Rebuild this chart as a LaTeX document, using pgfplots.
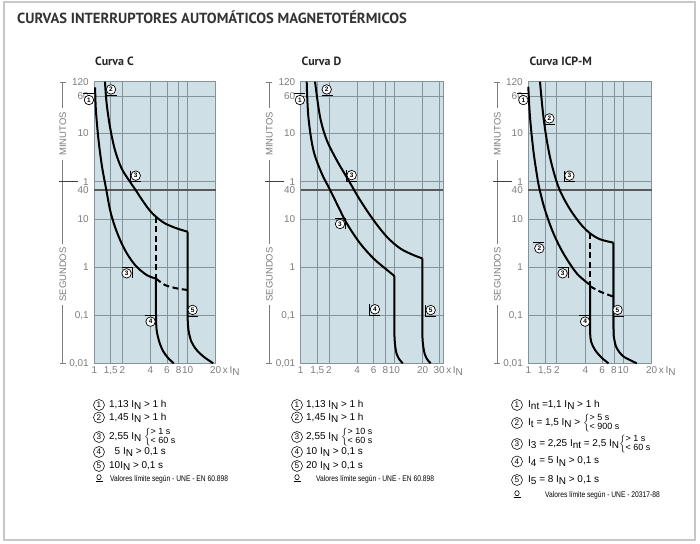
\documentclass[border=0pt]{standalone}
\usepackage{pgfplots}
\pgfplotsset{compat=1.18}
\usepackage{fontspec}
\setmainfont{Liberation Sans}
\newfontfamily\ptsans{PT Sans}
\definecolor{bg}{RGB}{206,224,230}
\definecolor{gridc}{RGB}{132,146,153}
\definecolor{labc}{RGB}{125,125,125}
\newcommand{\sub}[1]{\raisebox{-0.4ex}{#1}}
\newcommand{\IN}{I\sub{N}}
\newcommand{\two}[2]{$\left\{\begin{tabular}{@{}l@{}}\fontsize{9}{9}\selectfont #1\\\fontsize{9}{9}\selectfont #2\end{tabular}\right.$}
\tikzset{
 cmk/.style={circle,draw=black,line width=0.7bp,fill=white,inner sep=0pt,minimum size=9.5bp,font=\fontsize{6.5}{6.5}\selectfont\bfseries},
 lgc/.style={circle,draw=black,line width=0.55bp,inner sep=0pt,minimum size=11bp,font=\fontsize{8.2}{8.2}\selectfont},
 lgt/.style={anchor=west,inner sep=0pt,font=\fontsize{10}{11}\selectfont},
 lgv/.style={anchor=west,inner sep=0pt,font=\fontsize{8.2}{9}\selectfont},
 dsh/.style={dash pattern=on 6bp off 3.5bp},
}
\newcommand{\mkU}[3]{\node[cmk] at (axis cs:#1,#2) {#3};
 \draw[line width=0.6bp] ([xshift=-5bp,yshift=-6bp]axis cs:#1,#2) -- ++(11bp,0bp);}
\newcommand{\mkO}[3]{\node[cmk] at (axis cs:#1,#2) {#3};
 \draw[line width=0.6bp] ([xshift=-6bp,yshift=6.5bp]axis cs:#1,#2) -- ++(11bp,0bp);}
\newcommand{\mkUL}[3]{\node[cmk] at (axis cs:#1,#2) {#3};
 \draw[line width=0.6bp] ([xshift=-5.5bp,yshift=5bp]axis cs:#1,#2) -- ++(0bp,-11bp) -- ++(11bp,0bp);}
\newcommand{\mkOR}[3]{\node[cmk] at (axis cs:#1,#2) {#3};
 \draw[line width=0.6bp] ([xshift=-5bp,yshift=6bp]axis cs:#1,#2) -- ++(10.5bp,0bp) -- ++(0bp,-11bp);}
\pgfplotsset{every axis plot/.append style={line width=2bp, black}}
\newcommand{\ydeco}[1]{%
 \begin{scope}[draw=labc, line width=0.9bp]
 \draw (#1-3,462) -- (#1+3,462);
 \draw (#1,462) -- (#1,436);
 \draw (#1,384) -- (#1,300);
 \draw (#1,239) -- (#1,181);
 \draw (#1-3,181) -- (#1+3,181);
 \draw[black!75] (#1-4,362.3) -- (#1+15,362.3);
 \node[rotate=90, font=\fontsize{9.5}{9.5}\selectfont, text=labc] at (#1,410) {MINUTOS};
 \node[rotate=90, font=\fontsize{9.5}{9.5}\selectfont, text=labc] at (#1,269.5) {SEGUNDOS};
 \end{scope}}
\newcommand{\vsym}[2]{\draw[line width=0.6bp] (#1,#2+1.8) ellipse (2.2 and 2.6); \draw[line width=0.7bp] (#1-3.5,#2-2) -- (#1+3.5,#2-2);}
\begin{document}
\begin{tikzpicture}[x=1bp,y=1bp]
\path (0,0) rectangle (700,544);
\draw[black!22, line width=1.3bp] (4,4) rectangle (695,542);
\node[anchor=base west, inner sep=0pt, font=\ptsans\bfseries\fontsize{14.7}{15}\selectfont, text=black!80] at (17,520) {CURVAS INTERRUPTORES AUTOMÁTICOS MAGNETOTÉRMICOS};

% ---------------- Curva C
\node[anchor=base west, inner sep=0pt, font=\ptsans\bfseries\fontsize{12}{12}\selectfont, text=black!85] at (95,478) {Curva C};
\ydeco{62.8}
\begin{axis}[anchor=south west, at={(94.3bp,180.7bp)}, width=121.4bp, height=281.6bp, scale only axis,
 xmode=log, ymode=log, xmin=1, xmax=20, ymin=0.01, ymax=7200,
 axis background/.style={fill=bg},
 axis line style={gridc, line width=0.8bp},
 grid=major, major grid style={gridc, line width=0.8bp},
 major tick length=0pt,
 ytick={0.01,0.1,1,10,60,600,3600,7200},
 yticklabels={{0,01},{0,1},1,10,1,10,{60\hspace{8bp}},120},
 extra y ticks={40}, extra y tick labels={40},
 tick label style={font=\fontsize{10}{10}\selectfont, text=labc},
 yticklabel style={xshift=-2bp},
 clip=false,
 xtick={1.5,2,4,6,8,10}, xticklabels={{1,5},2,4,6,8,10},
 extra x ticks={1,20}, extra x tick labels={1,{20\rlap{\,x\,\IN}}}]
\draw[black!65, line width=1.5bp] (axis cs:1,40) -- (axis cs:20,40);
\addplot[smooth, tension=0.55] coordinates {(1.02,5500) (1.04,1850) (1.11,440) (1.21,123) (1.34,42) (1.50,13.5) (1.75,5.3) (2.13,2.27) (2.73,1.11) (3.64,0.686) (4.58,0.58)};
\addplot[smooth, tension=0.5] coordinates {(4.58,0.58) (4.58,0.12) (4.65,0.05) (5.0,0.027) (5.5,0.0175) (6.2,0.0128) (7.1,0.01)};
\addplot[smooth, tension=0.55] coordinates {(1.30,7200) (1.356,2540) (1.472,832) (1.665,272) (1.963,113) (2.41,59.8) (2.73,42) (3.35,23) (3.95,14.9) (4.58,11.2) (5.71,8.15) (7.63,6.41) (10,5.46)};
\addplot[smooth, tension=0.5] coordinates {(10,5.46) (10,0.12) (10.2,0.05) (11,0.028) (12.5,0.0189) (15,0.0135) (18.8,0.01)};
\addplot[dsh] coordinates {(4.58,11.2) (4.58,0.58)};
\addplot[smooth, dsh] coordinates {(4.58,0.58) (5.71,0.426) (7.63,0.362) (10,0.335)};
\mkO{0.877}{2990}{1}
\mkU{1.51}{4970}{2}
\mkUL{2.78}{80}{3}
\mkOR{2.22}{0.743}{3}
\mkO{4.01}{0.0735}{4}
\mkUL{11.3}{0.129}{5}
\end{axis}

% ---------------- Curva D
\node[anchor=base west, inner sep=0pt, font=\ptsans\bfseries\fontsize{12}{12}\selectfont, text=black!85] at (301.5,478) {Curva D};
\ydeco{269.3}
\begin{axis}[anchor=south west, at={(300.7bp,180.7bp)}, width=142.6bp, height=281.6bp, scale only axis,
 xmode=log, ymode=log, xmin=1, xmax=33.3, ymin=0.01, ymax=7200,
 axis background/.style={fill=bg},
 axis line style={gridc, line width=0.8bp},
 grid=major, major grid style={gridc, line width=0.8bp},
 major tick length=0pt,
 ytick={0.01,0.1,1,10,60,600,3600,7200},
 yticklabels={{0,01},{0,1},1,10,1,10,{60\hspace{8bp}},120},
 extra y ticks={40}, extra y tick labels={40},
 tick label style={font=\fontsize{10}{10}\selectfont, text=labc},
 yticklabel style={xshift=-2bp},
 clip=false,
 xtick={1.5,2,4,6,8,10,20}, xticklabels={{1,5},2,4,6,8,10,20},
 extra x ticks={1,30}, extra x tick labels={1,{30\rlap{\,x\,\IN}}}]
\draw[black!65, line width=1.5bp] (axis cs:1,40) -- (axis cs:33.3,40);
\addplot[smooth, tension=0.55] coordinates {(1.159,7200) (1.207,1343) (1.365,272) (1.676,89) (2.02,43.5) (2.52,18.1) (3.10,8.15) (4.30,3.13) (5.98,1.52) (7.95,0.944) (10,0.655)};
\addplot[smooth, tension=0.5] coordinates {(10,0.655) (10,0.05) (10.15,0.025) (10.6,0.0155) (11.4,0.0118) (12.3,0.01)};
\addplot[smooth, tension=0.55] coordinates {(1.422,7200) (1.608,1343) (1.895,440) (2.42,169) (3.23,64.7) (4.30,24.9) (5.98,9.55) (8.28,4.30) (11.5,2.46) (15.9,1.79) (19.9,1.52)};
\addplot[smooth, tension=0.5] coordinates {(19.9,1.52) (19.9,0.05) (20.2,0.025) (21.1,0.0155) (22.6,0.0118) (24.4,0.01)};
\mkO{0.98}{2990}{1}
\mkU{1.895}{4970}{2}
\mkUL{3.5}{82}{3}
\mkOR{2.63}{7.9}{3}
\mkUL{6.2}{0.133}{4}
\mkUL{24.4}{0.128}{5}
\end{axis}

% ---------------- Curva ICP-M
\node[anchor=base west, inner sep=0pt, font=\ptsans\bfseries\fontsize{12}{12}\selectfont, text=black!85] at (529.3,478) {Curva ICP-M};
\ydeco{497.3}
\begin{axis}[anchor=south west, at={(528.3bp,180.7bp)}, width=123.4bp, height=281.6bp, scale only axis,
 xmode=log, ymode=log, xmin=1, xmax=20, ymin=0.01, ymax=7200,
 axis background/.style={fill=bg},
 axis line style={gridc, line width=0.8bp},
 grid=major, major grid style={gridc, line width=0.8bp},
 major tick length=0pt,
 ytick={0.01,0.1,1,10,60,600,3600,7200},
 yticklabels={{0,01},{0,1},1,10,1,10,{60\hspace{8bp}},120},
 extra y ticks={40}, extra y tick labels={40},
 tick label style={font=\fontsize{10}{10}\selectfont, text=labc},
 yticklabel style={xshift=-2bp},
 clip=false,
 xtick={1.5,2,4,6,8,10}, xticklabels={{1,5},2,4,6,8,10},
 extra x ticks={1,20}, extra x tick labels={1,{20\rlap{\,x\,\IN}}}]
\draw[black!65, line width=1.5bp] (axis cs:1,40) -- (axis cs:20,40);
\addplot[smooth, tension=0.55] coordinates {(1.0,5650) (1.041,1343) (1.129,272) (1.225,89) (1.307,43.5) (1.50,15.4) (1.84,5.05) (2.34,1.94) (3.24,0.743) (4.48,0.426)};
\addplot[smooth, tension=0.5] coordinates {(4.48,0.426) (4.48,0.05) (4.6,0.028) (5.06,0.0189) (5.9,0.0132) (7.0,0.01)};
\addplot[smooth, tension=0.55] coordinates {(1.328,7200) (1.417,1850) (1.525,605) (1.72,169) (2.075,47) (2.645,18.1) (3.51,8.15) (4.48,5.05) (5.72,3.79) (7.9,3.23)};
\addplot[smooth, tension=0.5] coordinates {(7.9,3.23) (7.9,0.06) (8.1,0.03) (8.58,0.0205) (10.1,0.0138) (13.9,0.01)};
\addplot[dsh] coordinates {(4.48,5.05) (4.48,0.426)};
\addplot[smooth, dsh] coordinates {(4.48,0.40) (5.72,0.309) (7.9,0.243)};
\mkO{0.886}{2990}{1}
\mkU{1.667}{1242}{2}
\mkUL{2.71}{80}{3}
\mkO{1.307}{2.46}{2}
\mkOR{2.30}{0.743}{3}
\mkO{3.97}{0.0735}{4}
\mkU{8.72}{0.129}{5}
\end{axis}

% ---------------- legends
\renewcommand{\arraystretch}{0.74}
% C
\node[lgc] at (99,139) {1}; \node[lgt] at (109,139) {1,13 \IN\ > 1 h};
\node[lgc] at (99,126.5) {2}; \node[lgt] at (109,126.5) {1,45 \IN\ > 1 h};
\node[lgc] at (99,107) {3}; \node[lgt] at (109,107) {2,55 \IN\ \two{> 1 s}{< 60 s}};
\node[lgc] at (99,92) {4}; \node[lgt] at (109,92) {\ \ 5 \IN\ > 0,1 s};
\node[lgc] at (99,78) {5}; \node[lgt] at (109,78) {10\IN\ > 0,1 s};
\vsym{99}{65}
\node[lgv] at (110,65) {\scalebox{0.82}[1]{Valores límite según - UNE - EN 60.898}};
% D
\node[lgc] at (297,139) {1}; \node[lgt] at (306,139) {1,13 \IN\ > 1 h};
\node[lgc] at (297,126.5) {2}; \node[lgt] at (306,126.5) {1,45 \IN\ > 1 h};
\node[lgc] at (297,107) {3}; \node[lgt] at (306,107) {2,55 \IN\ \two{> 10 s}{< 60 s}};
\node[lgc] at (297,92) {4}; \node[lgt] at (306,92) {10 \IN\ > 0,1 s};
\node[lgc] at (297,78) {5}; \node[lgt] at (306,78) {20 \IN\ > 0,1 s};
\vsym{297}{65}
\node[lgv] at (316,65) {\scalebox{0.82}[1]{Valores límite según - UNE - EN 60.898}};
% ICP-M
\node[lgc] at (517,139) {1}; \node[lgt] at (528,139) {I\sub{nt} =1,1 \IN\ > 1 h};
\node[lgc] at (517,121) {2}; \node[lgt] at (528,121) {I\sub{t} = 1,5 \IN\ > \two{> 5 s}{< 900 s}};
\node[lgc] at (517,100) {3}; \node[lgt] at (528,100) {I\sub{3} = 2,25 I\sub{nt} = 2,5 \IN\two{> 1 s}{< 60 s}};
\node[lgc] at (517,82.5) {4}; \node[lgt] at (528,82.5) {I\sub{4} = 5 \IN\ > 0,1 s};
\node[lgc] at (517,64) {5}; \node[lgt] at (528,64) {I\sub{5} = 8 \IN\ > 0,1 s};
\vsym{517}{49}
\node[lgv] at (545,49) {\scalebox{0.82}[1]{Valores límite según - UNE - 20317-88}};
\end{tikzpicture}
\end{document}
